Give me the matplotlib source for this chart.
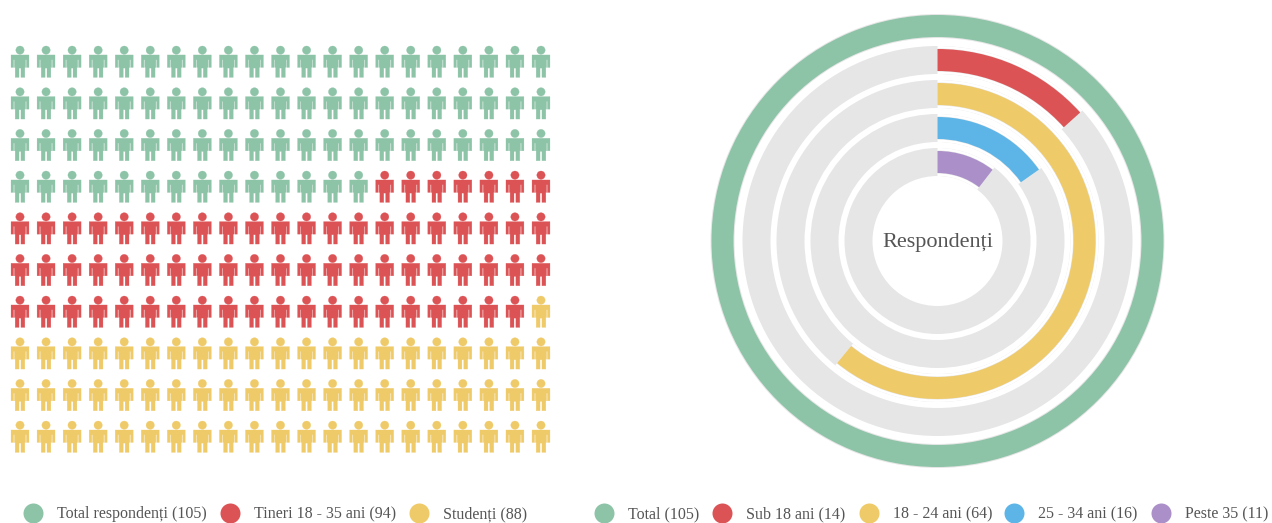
import numpy as np
import matplotlib
matplotlib.use('Agg')
import matplotlib.pyplot as plt
from matplotlib.path import Path

# date
picto_names = ['Total respondenți', 'Tineri 18 - 35 ani', 'Studenți']
picto_values = [105, 94, 88]
picto_icons = [77, 69, 64]
picto_colors = ['#8DC3A7', '#DC5356', '#EFCA69']

ring_names = ['Total', 'Sub 18 ani', '18 - 24 ani', '25 - 34 ani', 'Peste 35']
ring_values = [105, 14, 64, 16, 11]
ring_colors = ['#8DC3A7', '#DC5356', '#EFCA69', '#5CB5E6', '#AB8FC9']
ring_total = 105

W, H = 1272, 523
N_COLS = 21
N_ROWS = 10

plt.rcParams['font.family'] = ['Liberation Serif', 'DejaVu Serif']
fig = plt.figure(figsize=(W/100, H/100), dpi=100)


def box(x0, y0, x1, y1):
    # pixeli (y in jos) -> coordonate figura
    return [x0/W, 1 - y1/H, (x1 - x0)/W, (y1 - y0)/H]


def person():
    # silueta, desenata in pixeli de zoom, centrata apoi
    head = Path.circle((0, 58), 13)
    xy = [(-3, 143), (-15, 143), (-15, 112), (-17.5, 112), (-17.5, 88), (-20, 88), (-20, 112),
          (-28, 112), (-28, 84), (-28, 73), (-17, 73),
          (17, 73), (28, 73), (28, 84), (28, 112), (20, 112), (20, 88), (17.5, 88),
          (17.5, 112), (15, 112), (15, 143), (3, 143), (3, 114), (-3, 114), (-3, 143)]
    codes = [Path.MOVETO] + [Path.LINETO]*7 + [Path.CURVE3, Path.CURVE3] + [Path.LINETO]
    codes += [Path.CURVE3, Path.CURVE3] + [Path.LINETO]*12
    body = Path(xy, codes)
    p = Path.make_compound_path(head, body)
    v = p.vertices.copy()
    v[:, 1] = 95 - v[:, 1]
    return Path(v, p.codes)


# ---- pictograma ----
col_px = 26.05
row_px = 41.67
ax = fig.add_axes(box(0, 0, 570, 480))
ax.set_xlim(-20/col_px, (570 - 20)/col_px)
ax.set_ylim((480 - 62)/row_px, -62/row_px)
ax.axis('off')

idx = np.arange(sum(picto_icons))
rows, cols = np.divmod(idx, N_COLS)
colors = list(np.repeat(picto_colors, picto_icons))
ax.scatter(cols, rows, s=(32*0.72)**2, marker=person(), c=colors, edgecolors=colors, linewidths=0.2)

# ---- inele ----
hole = 68
pitch = 34
thick = 22
pad = 3
R = 232
cx, cy = 937.5, 241
pax = fig.add_axes(box(cx - R, cy - R, cx + R, cy + R), projection='polar')
pax.set_theta_zero_location('N')
pax.set_theta_direction(-1)
pax.set_ylim(0, R)
pax.axis('off')

n = len(ring_values)
for i, (val, col) in enumerate(zip(ring_values, ring_colors)):
    bottom = hole + pitch*(n - 1 - i)
    width = val/ring_total*2*np.pi
    if val == ring_total:
        # inelul plin: doar un contur gri subtire, fara cusatura sus
        pax.bar(0, thick + 2, width=2*np.pi, bottom=bottom - 1, align='edge', color='#E6E6E6', linewidth=0)
        pax.bar(0, thick, width=width, bottom=bottom, align='edge', color=col, linewidth=0)
        continue
    # pista gri, apoi fundal alb sub arc, apoi arcul
    pax.bar(0, thick + 2*pad, width=2*np.pi, bottom=bottom - pad, align='edge', color='#E6E6E6', linewidth=0)
    pax.bar(0, thick + 2*pad, width=width, bottom=bottom - pad, align='edge', color='white', linewidth=0)
    pax.bar(0, thick + 1, width=width, bottom=bottom - 0.5, align='edge', color='#E6E6E6', linewidth=0)
    pax.bar(0, thick, width=width, bottom=bottom, align='edge', color=col, linewidth=0)

pax.annotate('Respondenți', (0, 0), xytext=(0, -1), textcoords='offset points', ha='center',
             va='center', fontsize=16, color='#555555')

# ---- legende ----
lax = fig.add_axes([0, 0, 1, 1])
lax.set_xlim(0, W)
lax.set_ylim(H, 0)
lax.axis('off')
lax.patch.set_alpha(0)

legend_y = 513
picto_x = [33, 230, 419]
ring_x = [604, 722, 869, 1014, 1161]
for xs, names, vals, cols_ in [(picto_x, picto_names, picto_values, picto_colors),
                               (ring_x, ring_names, ring_values, ring_colors)]:
    for x, name, v, c in zip(xs, names, vals, cols_):
        lax.scatter([x], [legend_y], s=(20*0.72)**2, color=c, linewidths=0, clip_on=False)
        lax.text(x + 24, legend_y + 5, f'{name} ({v})', ha='left', va='baseline', fontsize=11.5, color='#555555')

fig.savefig('out.png', dpi=100, facecolor='white')
